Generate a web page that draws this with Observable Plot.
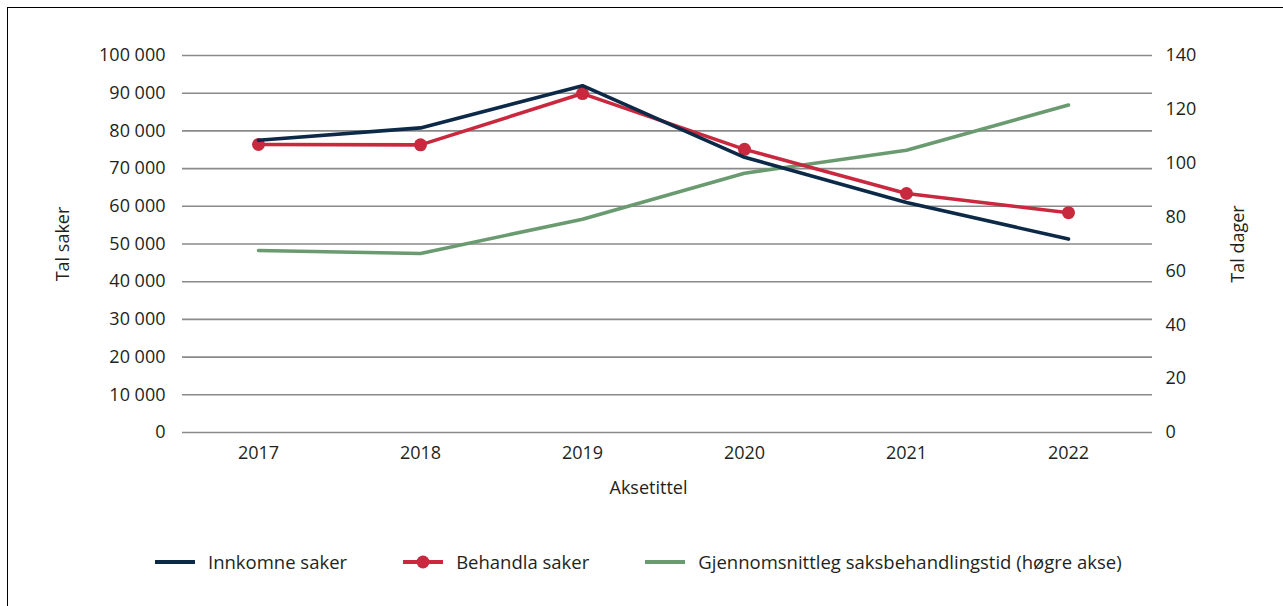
<!DOCTYPE html>
<html>
<head>
<meta charset="utf-8">
<script src="https://cdn.jsdelivr.net/npm/d3@7"></script>
<script src="https://cdn.jsdelivr.net/npm/@observablehq/plot@0.6"></script>
<style>
  html, body { margin: 0; padding: 0; background: #fff; }
  #wrap { position: relative; width: 1283px; height: 606px; overflow: hidden; font-family: "Open Sans", sans-serif; color: #231f20; }
  #frame { position: absolute; left: 7px; top: 7px; right: -10px; bottom: -10px; border-left: 1.5px solid #000; border-top: 1.5px solid #000; }
  #chart { position: absolute; left: 0; top: 0; }
  #legend { position: absolute; left: 155px; top: 549px; display: flex; align-items: center; gap: 56px; font-size: 18.5px; }
  .item { display: flex; align-items: center; gap: 13px; }
  .item svg { display: block; }
</style>
</head>
<body>
<div id="wrap">
  <div id="frame"></div>
  <div id="chart"></div>
  <div id="legend"></div>
</div>
<script>
// ---- data ----
const years = ["2017", "2018", "2019", "2020", "2021", "2022"];
const innkomne = [77500, 80800, 92000, 73000, 61000, 51300];
const behandla = [76400, 76300, 89900, 75100, 63400, 58300];
const behandlingstid = [67.6, 66.5, 79.2, 96.3, 104.8, 121.6];
const seriesNames = ["Innkomne saker", "Behandla saker", "Gjennomsnittleg saksbehandlingstid (høgre akse)"];
const seriesColors = ["#0c2a48", "#c8293f", "#6a9b70"];
const leftTicks = [0, 10000, 20000, 30000, 40000, 50000, 60000, 70000, 80000, 90000, 100000];
const rightTicks = [0, 20, 40, 60, 80, 100, 120, 140];
const leftMax = 100000, rightMax = 140;

// ---- build ----
const toLeft = v => v * leftMax / rightMax;
const fmt = d3.formatLocale({decimal: ",", thousands: "\u00a0", grouping: [3], currency: ["", ""]}).format(",");
const rows1 = years.map((y, i) => ({year: y, value: innkomne[i]}));
const rows2 = years.map((y, i) => ({year: y, value: behandla[i]}));
const rows3 = years.map((y, i) => ({year: y, value: toLeft(behandlingstid[i])}));

const chart = Plot.plot({
  width: 1283,
  height: 520,
  marginLeft: 182,
  marginRight: 131,
  marginTop: 55,
  marginBottom: 88,
  style: {fontFamily: "'Open Sans', sans-serif", fontSize: "18px", color: "#231f20", background: "transparent"},
  x: {type: "point", domain: years, range: [258, 1068], padding: 0},
  y: {domain: [0, leftMax]},
  marks: [
    Plot.ruleY(leftTicks, {stroke: "#8a8a8a", strokeWidth: 1.6, strokeOpacity: 1}),
    Plot.axisY({ticks: leftTicks, tickFormat: fmt, tickSize: 0, tickPadding: 17, label: null, fill: "#231f20"}),
    Plot.axisY({anchor: "right", ticks: rightTicks.map(toLeft), tickFormat: d => String(Math.round(d * rightMax / leftMax)), tickSize: 0, tickPadding: 13, label: null, fill: "#231f20"}),
    Plot.axisX({tickSize: 0, tickPadding: 14, label: null, fill: "#231f20"}),
    Plot.text(["Tal saker"], {frameAnchor: "left", dx: -119, rotate: -90, textAnchor: "middle", fontSize: 18, fill: "#231f20"}),
    Plot.text(["Tal dager"], {frameAnchor: "right", dx: 86, rotate: -90, textAnchor: "middle", fontSize: 18, fill: "#231f20"}),
    Plot.text(["Aksetittel"], {frameAnchor: "bottom", dx: -19, dy: 61, fontSize: 18, fill: "#231f20"}),
    Plot.line(rows3, {x: "year", y: "value", stroke: seriesColors[2], strokeWidth: 3.6}),
    Plot.line(rows2, {x: "year", y: "value", stroke: seriesColors[1], strokeWidth: 3.6}),
    Plot.dot(rows2, {x: "year", y: "value", fill: seriesColors[1], r: 6.5}),
    Plot.line(rows1, {x: "year", y: "value", stroke: seriesColors[0], strokeWidth: 3.6, strokeLinejoin: "miter"})
  ]
});
document.getElementById("chart").appendChild(chart);

// ---- legend ----
const legend = document.getElementById("legend");
seriesNames.forEach((name, i) => {
  const item = document.createElement("div");
  item.className = "item";
  const dot = i === 1 ? `<circle cx="20" cy="7" r="6.5" fill="${seriesColors[i]}"/>` : "";
  item.innerHTML = `<svg width="40" height="14"><line x1="0" x2="40" y1="7" y2="7" stroke="${seriesColors[i]}" stroke-width="4"/>${dot}</svg><span>${name}</span>`;
  legend.appendChild(item);
});
</script>
</body>
</html>
